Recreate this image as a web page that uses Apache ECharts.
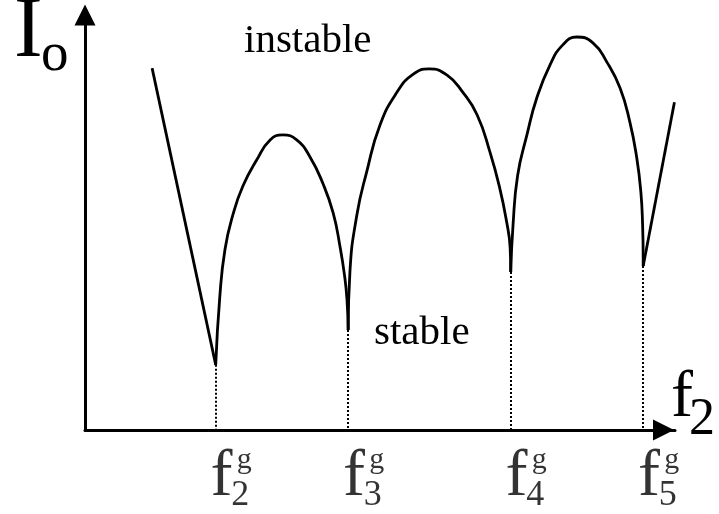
<!DOCTYPE html>
<html>
<head>
<meta charset="utf-8">
<script src="https://cdn.jsdelivr.net/npm/echarts@6/dist/echarts.min.js"></script>
<style>
  html, body { margin: 0; padding: 0; background: #fff; }
  #chart { width: 719px; height: 514px; }
</style>
</head>
<body>
<div id="chart"></div>
<script>
// curve pieces (f2 along x, Io along y)
var leftLine = [[11.6, 87.2], [22.6, 15.7]];
var arc1 = [[22.6, 15.7], [23.3, 32.0], [24.2, 43.5], [25.6, 52.0], [27.3, 58.8], [29.7, 65.1],
  [32.0, 69.9], [34.2, 71.1], [36.6, 69.9], [38.9, 65.8], [41.1, 59.5], [42.9, 52.3],
  [44.1, 44.1], [44.9, 36.9], [45.3, 31.3], [45.5, 24.1]];
var arc2 = [[45.5, 24.1], [45.8, 38.1], [47.0, 51.8], [48.7, 62.2], [51.0, 73.5], [53.9, 81.3],
  [56.7, 85.7], [59.5, 87.0], [62.6, 85.5], [65.3, 81.4], [67.8, 75.9], [70.0, 67.0],
  [71.7, 58.3], [72.9, 50.1], [73.5, 43.9], [73.6, 38.1]];
var arc3 = [[73.6, 38.1], [74.0, 49.4], [74.8, 61.4], [76.4, 71.1], [78.1, 80.0], [80.4, 88.0],
  [82.6, 92.8], [85.0, 94.7], [87.8, 93.3], [90.2, 88.7], [92.5, 82.4], [94.2, 74.2],
  [95.4, 65.5], [96.1, 57.3], [96.4, 49.4], [96.5, 41.4], [96.5, 39.5]];
var rightLine = [[96.5, 39.5], [101.9, 79.0]];

// cusps (critical frequencies f_n^g)
var cusps = [[22.6, 15.7], [45.5, 24.1], [73.6, 38.1], [96.5, 39.5]];
var cuspNames = ['2', '3', '4', '5'];

var chart = echarts.init(document.getElementById('chart'), null, { renderer: 'canvas' });

var serif = '"Liberation Serif", "Times New Roman", serif';
var K = 0.34; // baseline -> middle

function curve(data) {
  return {
    type: 'line',
    data: data,
    smooth: 0.5,
    symbol: 'none',
    clip: false,
    silent: true,
    lineStyle: { color: '#000', width: 2.8 },
    animation: false
  };
}

function labelRow(text, fs, dx, base) {
  return {
    type: 'scatter',
    data: cusps.map(function (c, i) { return { value: [c[0], 0], name: text === null ? cuspNames[i] : text }; }),
    symbolSize: 1,
    itemStyle: { color: 'transparent' },
    silent: true,
    animation: false,
    label: {
      show: true,
      position: 'inside',
      align: 'left',
      verticalAlign: 'middle',
      offset: [dx, base - 430 - K * fs],
      formatter: function (p) { return p.name; },
      fontFamily: serif,
      fontSize: fs,
      color: '#000'
    }
  };
}

function txt(s, x, base, fs) {
  return {
    type: 'text',
    x: x,
    y: base - K * fs,
    silent: true,
    style: {
      text: s,
      font: fs + 'px ' + serif,
      fill: '#000',
      textAlign: 'left',
      textVerticalAlign: 'middle',
      align: 'left',
      verticalAlign: 'middle'
    }
  };
}

function axis(max, arrowBack) {
  return {
    type: 'value',
    min: 0,
    max: max,
    axisLabel: { show: false },
    axisTick: { show: false },
    splitLine: { show: false },
    axisLine: {
      show: true,
      symbol: ['none', 'triangle'],
      symbolSize: [21, 21],
      symbolOffset: [0, arrowBack],
      lineStyle: { color: '#000', width: 3 }
    }
  };
}

var option = {
  backgroundColor: '#fff',
  animation: false,
  grid: { left: 85, right: 44, top: 15, bottom: 84, containLabel: false },
  xAxis: axis(102, -11.5),
  yAxis: axis(100, 0),
  series: [
    curve(leftLine), curve(arc1), curve(arc2), curve(arc3), curve(rightLine),
    {
      type: 'line',
      data: [],
      silent: true,
      markLine: {
        silent: true,
        symbol: ['none', 'none'],
        label: { show: false },
        animation: false,
        lineStyle: { type: 'dotted', width: 2, color: '#000' },
        data: cusps.map(function (c) { return [{ coord: [c[0], c[1]] }, { coord: [c[0], 0] }]; })
      }
    },
    labelRow('f', 66, -5.3, 500),
    labelRow(null, 36, 15.5, 508),
    labelRow('g', 30, 21, 470.5)
  ],
  graphic: [
    txt('I', 14, 63, 86),
    txt('o', 41, 74, 55),
    txt('instable', 244, 55, 41),
    txt('stable', 374, 347, 41),
    txt('f', 671, 421, 66),
    txt('2', 689, 438, 52)
  ]
};

chart.setOption(option);
</script>
</body>
</html>
